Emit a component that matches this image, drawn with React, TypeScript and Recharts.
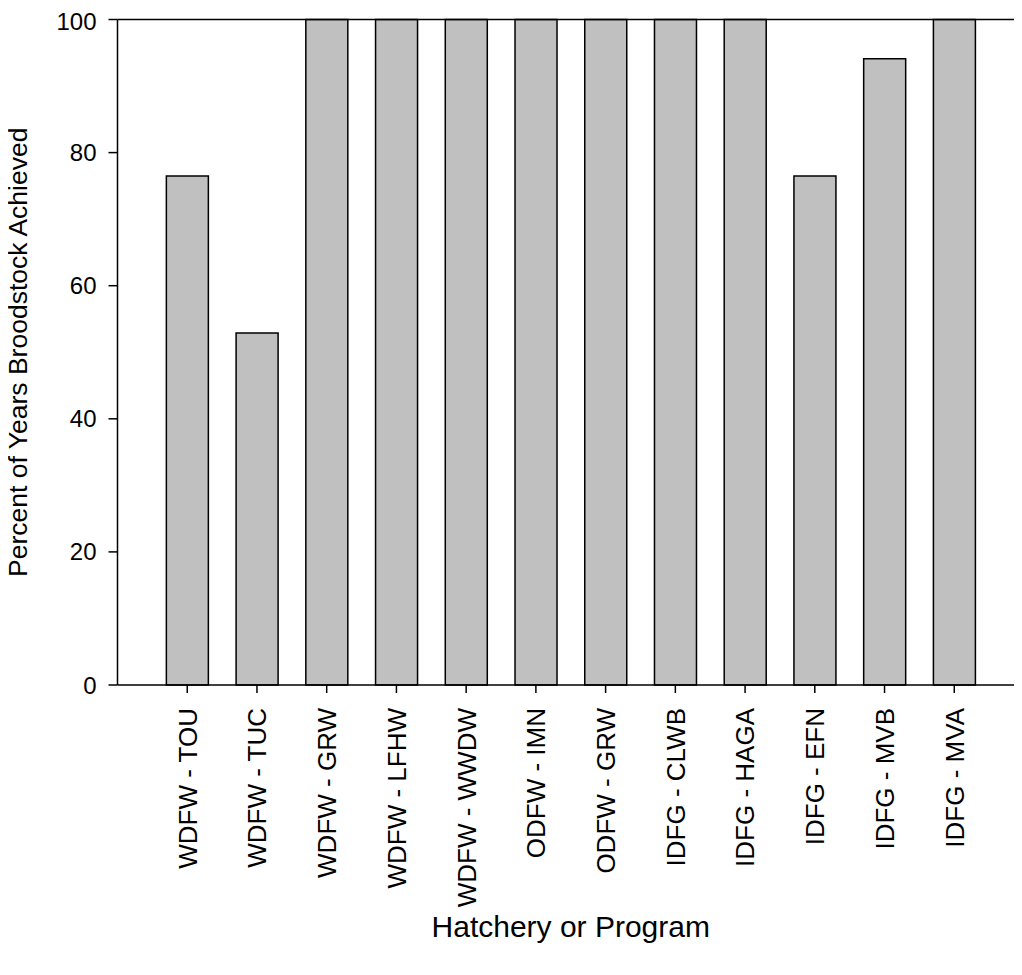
import { BarChart, Bar, XAxis, YAxis, ReferenceLine } from 'recharts';

const programs = [
  'WDFW - TOU',
  'WDFW - TUC',
  'WDFW - GRW',
  'WDFW - LFHW',
  'WDFW - WWDW',
  'ODFW - IMN',
  'ODFW - GRW',
  'IDFG - CLWB',
  'IDFG - HAGA',
  'IDFG - EFN',
  'IDFG - MVB',
  'IDFG - MVA',
];
const percentAchieved = [76.5, 52.9, 100, 100, 100, 100, 100, 100, 100, 76.5, 94.1, 100];
const yTicks = [0, 20, 40, 60, 80, 100];

const FONT = 'Arial, "Liberation Sans", sans-serif';

const data = programs.map((name, i) => ({ pos: i + 1, name, value: percentAchieved[i] }));

function ProgramTick({ x, y, payload }: any) {
  const label = programs[payload.value - 1] ?? '';
  return (
    <text
      x={x}
      y={y}
      dy="0.36em"
      transform={`rotate(-90 ${x} ${y})`}
      textAnchor="end"
      fontSize={26}
      fontFamily={FONT}
      fill="#000"
    >
      {label}
    </text>
  );
}

function YTitle({ viewBox }: any) {
  const cy = viewBox.y + viewBox.height / 2;
  return (
    <text x={27} y={cy} transform={`rotate(-90 27 ${cy})`} textAnchor="middle" fontSize={26.5} fontFamily={FONT} fill="#000">
      Percent of Years Broodstock Achieved
    </text>
  );
}

function XTitle({ viewBox }: any) {
  const cx = viewBox.x + viewBox.width / 2;
  return (
    <text x={cx} y={929} textAnchor="middle" fontSize={30} fontFamily={FONT} fill="#000">
      Hatchery or Program
    </text>
  );
}

export default function App() {
  return (
    <div style={{ width: 1022, marginLeft: -8, overflow: 'hidden' }}>
      <BarChart
        width={1038}
        height={960}
        data={data}
        margin={{ top: 11.5, right: 14, bottom: 0, left: 0 }}
      >
        <XAxis
          type="number"
          dataKey="pos"
          domain={[0, 13]}
          ticks={[1, 2, 3, 4, 5, 6, 7, 8, 9, 10, 11, 12]}
          interval={0}
          height={283}
          tickSize={8}
          tickMargin={15}
          tick={<ProgramTick />}
          stroke="#000"
          strokeWidth={1.5}
          label={<XTitle />}
        />
        <YAxis
          type="number"
          domain={[0, 100]}
          ticks={yTicks}
          width={117.5}
          tickSize={9}
          tickMargin={12}
          tick={{ fontSize: 24, fontFamily: FONT, fill: '#000' }}
          stroke="#000"
          strokeWidth={1.5}
          label={<YTitle />}
        />
        <ReferenceLine y={100} stroke="#000" strokeWidth={1.5} />
        <Bar dataKey="value" fill="#c0c0c0" stroke="#000" strokeWidth={1.5} barSize={42} isAnimationActive={false} />
      </BarChart>
    </div>
  );
}
